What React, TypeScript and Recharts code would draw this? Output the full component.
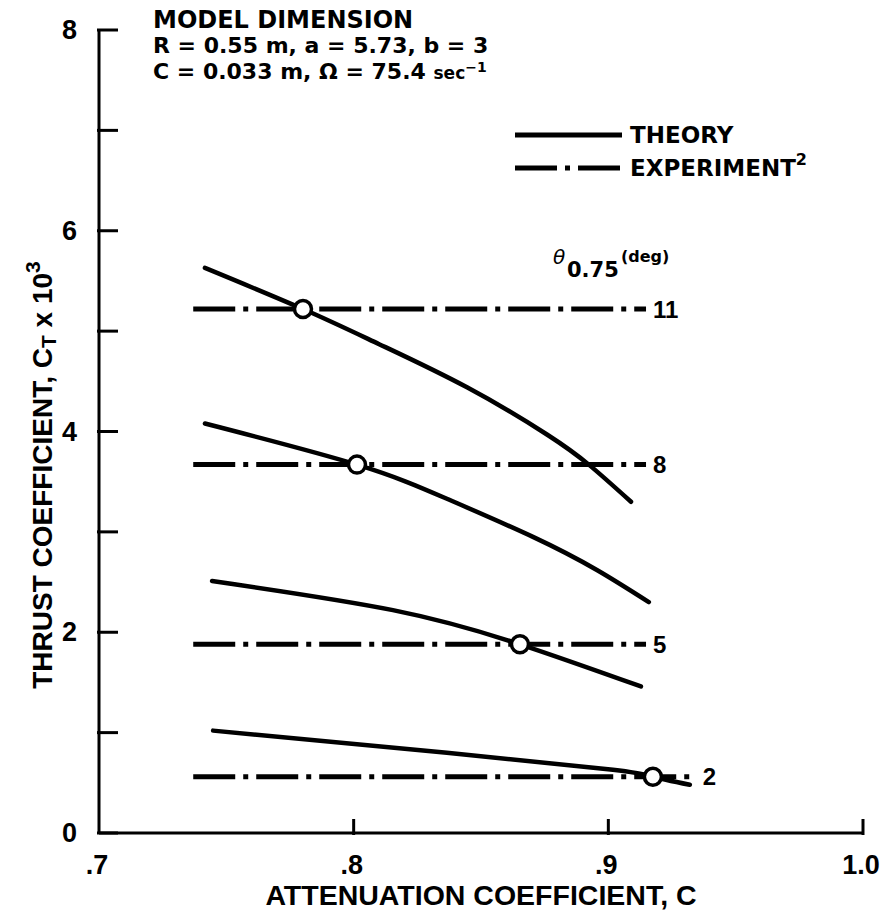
import { ComposedChart, LabelList, Line, Scatter, XAxis, YAxis } from "recharts";

const CHART_W = 887;
const CHART_H = 918;
const INK = "#000";
const AXIS_FONT = '"Liberation Sans", Arial, sans-serif';
const NOTE_FONT = '"DejaVu Sans", sans-serif';
const DASH_DOT = "42 8 5 8";

// theory curves: thrust coefficient (x10^3) vs attenuation coefficient C, per collective pitch
const theory11 = [
  { c: 0.7416, ct: 5.63 },
  { c: 0.7801, ct: 5.22 },
  { c: 0.81, ct: 4.87 },
  { c: 0.8445, ct: 4.44 },
  { c: 0.8759, ct: 3.97 },
  { c: 0.8928, ct: 3.66 },
  { c: 0.9089, ct: 3.3 },
];
const theory8 = [
  { c: 0.7416, ct: 4.08 },
  { c: 0.8013, ct: 3.67 },
  { c: 0.8366, ct: 3.33 },
  { c: 0.8704, ct: 2.95 },
  { c: 0.8955, ct: 2.62 },
  { c: 0.9159, ct: 2.3 },
];
const theory5 = [
  { c: 0.7444, ct: 2.51 },
  { c: 0.8154, ct: 2.22 },
  { c: 0.8653, ct: 1.88 },
  { c: 0.9128, ct: 1.46 },
];
const theory2 = [
  { c: 0.7448, ct: 1.02 },
  { c: 0.8366, ct: 0.8 },
  { c: 0.9018, ct: 0.63 },
  { c: 0.9175, ct: 0.56 },
  { c: 0.932, ct: 0.48 },
];
const theoryCurves = [theory11, theory8, theory5, theory2];

// measured thrust for each pitch, and the C where theory matches it
const pitchAngles = [11, 8, 5, 2];
const experimentCT = [5.22, 3.67, 1.88, 0.56];
const experimentFrom = [0.737, 0.737, 0.737, 0.737];
const experimentTo = [0.9148, 0.9148, 0.9148, 0.932];
const matchC = [0.7801, 0.8013, 0.8653, 0.9175];

const xTicks = [0.7, 0.8, 0.9, 1.0];
const xTickLabels = [".7", ".8", ".9", "1.0"];
const yTicks = [0, 1, 2, 3, 4, 5, 6, 7, 8];
const yTickLabels = ["0", "", "2", "", "4", "", "6", "", "8"];

const experimentLines = pitchAngles.map((angle, i) => ({
  angle,
  points: [
    { c: experimentFrom[i], ct: experimentCT[i] },
    { c: experimentTo[i], ct: experimentCT[i] },
  ],
}));
const matchPoints = matchC.map((c, i) => ({ c, ct: experimentCT[i] }));

function YTick(props: any) {
  const { x, y, payload } = props;
  const label = yTickLabels[yTicks.indexOf(payload.value)];
  return (
    <g>
      <line x1={x} x2={x + 21} y1={y} y2={y} stroke={INK} strokeWidth={3} />
      {label && (
        <text
          x={x - 20}
          y={y}
          textAnchor="end"
          dominantBaseline="central"
          fontFamily={AXIS_FONT}
          fontWeight="bold"
          fontSize={27}
          fill={INK}
        >
          {label}
        </text>
      )}
    </g>
  );
}

function XTick(props: any) {
  const { x, y, payload } = props;
  const i = xTicks.indexOf(payload.value);
  return (
    <g>
      {i > 0 && <line x1={x} x2={x} y1={y} y2={y - 16} stroke={INK} strokeWidth={3} />}
      <text
        x={x - 2}
        y={y + 30}
        textAnchor="middle"
        dominantBaseline="central"
        fontFamily={AXIS_FONT}
        fontWeight="bold"
        fontSize={27}
        fill={INK}
      >
        {xTickLabels[i]}
      </text>
    </g>
  );
}

function XTitle(props: any) {
  const { x, y, width } = props.viewBox;
  return (
    <text
      x={x + width / 2}
      y={y + 72}
      textAnchor="middle"
      fontFamily={AXIS_FONT}
      fontWeight="bold"
      fontSize={28.5}
      fill={INK}
    >
      ATTENUATION COEFFICIENT, C
    </text>
  );
}

function YTitle() {
  const cx = 42;
  const cy = 475;
  return (
    <text
      x={cx}
      y={cy}
      transform={`rotate(-90 ${cx} ${cy})`}
      textAnchor="middle"
      dominantBaseline="central"
      fontFamily={AXIS_FONT}
      fontWeight="bold"
      fontSize={28}
      fill={INK}
    >
      THRUST COEFFICIENT, C
      <tspan fontSize={21} dy={6}>T</tspan>
      <tspan dy={-6}> x 10</tspan>
      <tspan fontSize={21} dy={-10}>3</tspan>
    </text>
  );
}

function Notes() {
  const note = { fontFamily: NOTE_FONT, fontWeight: "bold" as const, fill: INK };
  return (
    <svg
      width={CHART_W}
      height={CHART_H}
      style={{ position: "absolute", left: 0, top: 0, pointerEvents: "none" }}
    >
      <text x={153} y={28} fontSize={24} {...note}>MODEL DIMENSION</text>
      <text x={153} y={53} fontSize={22} {...note}>R = 0.55 m, a = 5.73, b = 3</text>
      <text x={153} y={79} fontSize={22} {...note}>
        C = 0.033 m, Ω = 75.4 <tspan fontSize={17}>sec</tspan>
        <tspan fontSize={14} dy={-7}>−1</tspan>
      </text>

      <line x1={515} x2={622} y1={135} y2={135} stroke={INK} strokeWidth={5} />
      <text x={630} y={135} dominantBaseline="central" fontSize={23} {...note}>THEORY</text>
      <line x1={515} x2={622} y1={168} y2={168} stroke={INK} strokeWidth={5} strokeDasharray={DASH_DOT} />
      <text x={630} y={168} dominantBaseline="central" fontSize={23} {...note}>
        EXPERIMENT<tspan fontSize={16} dy={-9}>2</tspan>
      </text>

      <text x={553} y={264} fontSize={20} fontFamily={NOTE_FONT} fontStyle="italic" fill={INK}>θ</text>
      <text x={567} y={277} fontSize={21} {...note}>0.75</text>
      <text x={621} y={262} fontSize={16} {...note}>(deg)</text>
    </svg>
  );
}

export default function App() {
  return (
    <div style={{ position: "absolute", left: 0, top: 0, width: CHART_W, height: CHART_H, background: "#fff" }}>
      <ComposedChart width={CHART_W} height={CHART_H} margin={{ top: 30, right: 24, bottom: 0, left: 0 }}>
        <XAxis
          type="number"
          dataKey="c"
          domain={[0.7, 1.0]}
          ticks={xTicks}
          interval={0}
          height={85}
          tickSize={0}
          tickLine={false}
          axisLine={{ stroke: INK, strokeWidth: 3 }}
          tick={<XTick />}
          label={<XTitle />}
        />
        <YAxis
          type="number"
          dataKey="ct"
          domain={[0, 8]}
          ticks={yTicks}
          interval={0}
          width={99}
          tickSize={0}
          tickLine={false}
          axisLine={{ stroke: INK, strokeWidth: 3 }}
          tick={<YTick />}
          label={<YTitle />}
        />
        {theoryCurves.map((curve, i) => (
          <Line
            key={`theory-${pitchAngles[i]}`}
            data={curve}
            dataKey="ct"
            type="natural"
            stroke={INK}
            strokeWidth={4.5}
            strokeLinecap="round"
            dot={false}
            activeDot={false}
            isAnimationActive={false}
          />
        ))}
        {experimentLines.map((line, i) => (
          <Line
            key={`experiment-${line.angle}`}
            data={line.points}
            dataKey="ct"
            type="linear"
            stroke={INK}
            strokeWidth={5}
            strokeDasharray={DASH_DOT}
            dot={false}
            activeDot={false}
            isAnimationActive={false}
          >
            <LabelList
              dataKey="ct"
              content={(p: any) =>
                p.index === 1 ? (
                  <text
                    x={p.x + (i === 3 ? 13 : 7)}
                    y={p.y}
                    dominantBaseline="central"
                    fontFamily={AXIS_FONT}
                    fontWeight="bold"
                    fontSize={24}
                    fill={INK}
                  >
                    {line.angle}
                  </text>
                ) : null
              }
            />
          </Line>
        ))}
        <Scatter
          data={matchPoints}
          dataKey="ct"
          isAnimationActive={false}
          shape={(p: any) => <circle cx={p.cx} cy={p.cy} r={8.5} fill="#fff" stroke={INK} strokeWidth={3.5} />}
        />
      </ComposedChart>
      <Notes />
    </div>
  );
}
